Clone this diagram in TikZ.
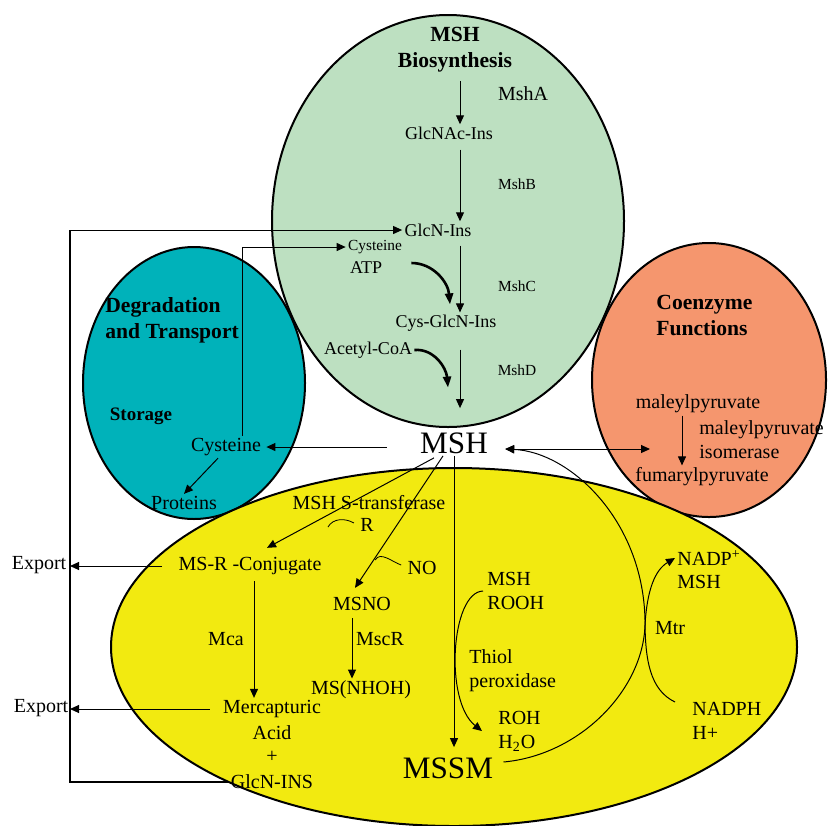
\documentclass[tikz,border=0pt]{standalone}
\usepackage{fontspec}
\setmainfont{Liberation Serif}
\usetikzlibrary{arrows.meta}
\definecolor{synth}{RGB}{189,224,193}
\definecolor{degr}{RGB}{0,178,186}
\definecolor{coenz}{RGB}{245,150,110}
\definecolor{detox}{RGB}{242,234,16}
\newcommand{\blob}[4]{\draw[line width=1pt,fill=#1] (#2) ellipse [x radius=#3, y radius=#4];}
\newcommand{\chem}[4][lbl]{\node[#1] (#2) at (#3) {#4};}
\tikzset{
  arr/.style={line width=0.5pt,-{Triangle[length=4.5pt,width=4pt]}},
  twoway/.style={line width=0.5pt,{Triangle[length=4.5pt,width=4pt]}-{Triangle[length=4.5pt,width=4pt]}},
  heavy/.style={line width=1.3pt,-{Triangle[length=5.5pt,width=4pt]}},
  wire/.style={line width=0.8pt},
  lbl/.style={font=\fontsize{10}{12}\selectfont,inner sep=1pt},
  bio/.style={font=\fontsize{9}{11}\selectfont,inner sep=1pt},
  tiny/.style={font=\fontsize{7.7}{9}\selectfont,inner sep=1pt},
  head/.style={font=\bfseries\fontsize{10.8}{13}\selectfont,align=left,inner sep=0pt},
  big/.style={font=\fontsize{15.6}{18}\selectfont,inner sep=1pt},
  stack/.style={lbl,align=left,anchor=west}
}
\begin{document}
\begin{tikzpicture}[x=0.5pt,y=-0.5pt]
\useasboundingbox (0,0) rectangle (828,825);
\blob{synth}{448,221}{176}{206}
\blob{degr}{194,383}{111}{136}
\blob{coenz}{709,380}{117}{137}
\blob{detox}{454,647}{343}{179}
\coordinate (spine) at (460,0);
\coordinate (exL) at (70,0);
\coordinate (upL) at (242,0);
\coordinate (mcaL) at (254,0);
\coordinate (mscL) at (352,0);
\coordinate (fumL) at (682,0);
% biosynthesis
\node[head,align=center] (synthT) at (455,50) {MSH\\Biosynthesis};
\chem{MshA}{523,94}{MshA}
\chem[bio]{GlcNAc}{449,133}{GlcNAc-Ins}
\chem[tiny]{MshB}{517,184}{MshB}
\chem[bio]{GlcN}{438,230}{GlcN-Ins}
\chem[tiny]{CysIn}{375,247}{Cysteine}
\chem[bio]{ATP}{366,268}{ATP}
\chem[tiny]{MshC}{517,286}{MshC}
\chem[bio]{CysGlcN}{446,323}{Cys-GlcN-Ins}
\chem[bio]{AcCoA}{368,350}{Acetyl-CoA}
\chem[tiny]{MshD}{517,370}{MshD}
\chem[big]{MSH}{454,443}{MSH}
\foreach \a/\b/\s in {synthT/GlcNAc/4pt,GlcNAc/GlcN/4pt,GlcN/CysGlcN/3.5pt}{
  \draw[arr,shorten <=\s] (\a.south -| spine) -- (\b.north -| spine);
}
\draw[arr,shorten <=8pt,shorten >=11pt] (CysGlcN.south -| spine) -- (MSH.north -| spine);
\draw[heavy] (ATP.east) ++(27,-5) to[out=0,in=95] ([xshift=2pt,yshift=4pt]CysGlcN.north);
\draw[heavy] (AcCoA.east) to[out=5,in=95] ([xshift=1pt,yshift=-27pt]CysGlcN.south);
% degradation
\node[head,anchor=west] (degT) at (105,320) {Degradation\\and Transport};
\chem[font=\bfseries\fontsize{9.5}{11}\selectfont]{Stor}{141,416}{Storage}
\chem{CysT}{226,447}{Cysteine}
\chem{Prot}{184,503}{Proteins}
\draw[arr,shorten <=15.5pt,shorten >=1.5pt] (MSH.west |- CysT.east) -- (CysT.east);
\draw[arr] ([xshift=-4pt]CysT.south) -- (Prot.north);
\draw[arr] (CysT.north -| upL) -- (CysIn.west -| upL) -- (CysIn.west);
% coenzyme
\node[head,anchor=west] (coT) at (656,315) {Coenzyme\\Functions};
\chem{maley}{698,404}{maleylpyruvate}
\chem[stack]{iso}{697,440}{maleylpyruvate\\isomerase}
\chem{fum}{702,477}{fumarylpyruvate}
\draw[arr] (maley.south -| fumL) -- (fum.north -| fumL);
\draw[twoway,shorten <=7.5pt] (MSH.east |- 0,449) -- (650,449);
% detoxification
\chem{trans}{369,503}{MSH S-transferase}
\chem{Rl}{367,525}{R}
\chem{conj}{250,566}{MS-R -Conjugate}
\chem{NO}{422,568}{NO}
\chem{MSNO}{362,604}{MSNO}
\chem{Mca}{226,639}{Mca}
\chem{MscR}{380,639}{MscR}
\chem{NHOH}{361,690}{MS(NHOH)}
\chem{merc}{272,709}{Mercapturic}
\chem{acid}{272,733}{Acid}
\chem{plus}{272,757}{+}
\chem{GlcNINS}{272,782}{GlcN-INS}
\chem[big]{MSSM}{448,768}{MSSM}
\chem[stack]{MSHROOH}{485,591}{MSH\\ROOH}
\chem[stack]{thiol}{467,671}{Thiol\\peroxidase}
\chem[stack]{ROH}{496,731}{ROH\\H\textsubscript{2}O}
\chem[lbl,anchor=west]{NADPp}{675,558}{NADP\textsuperscript{+}}
\chem[lbl,anchor=west]{MSHn}{675,582}{MSH}
\chem{Mtr}{670,628}{Mtr}
\chem[lbl,anchor=west]{NADPH}{690,709}{NADPH}
\chem[lbl,anchor=west]{Hp}{690,733}{H+}
\chem{exp1}{39,565}{Export}
\chem{exp2}{41,708}{Export}
\draw[arr] ([xshift=-10pt,yshift=-1pt]MSH.south) -- ([xshift=8.5pt,yshift=3.5pt]conj.north);
\draw[arr] ([xshift=-5.5pt]MSH.south) -- ([xshift=-3.5pt,yshift=3.5pt]MSNO.north);
\draw[arr,shorten >=4pt] (MSH.south) -- (MSH.south |- MSSM.north);
\draw (Rl.west) ++(-4,-2) to[out=150,in=60] ++(-26,4);
\draw (NO.west) ++(-4,-3) to[out=160,in=60] ++(-26,-5);
\draw[arr,shorten <=2pt] (conj.south -| mcaL) -- (merc.north -| mcaL);
\draw[arr,shorten <=2.5pt] (MSNO.south -| mscL) -- (NHOH.north -| mscL);
\draw[arr] ([xshift=-7pt]conj.west) -- (conj.west -| exL);
\draw[arr] ([xshift=-5.5pt]merc.west) -- (merc.west -| exL);
\draw[wire] (GlcNINS.west) -- (GlcNINS.west -| exL) -- (GlcN.west -| exL);
\draw[arr] (GlcN.west -| exL) -- (GlcN.west);
\draw[arr] ([xshift=-1pt]MSHROOH.west) .. controls +(-32,1) and +(-38,-30) .. ([xshift=-7pt]ROH.west);
\draw[arr] ([xshift=4pt,yshift=3pt]MSSM.east) .. controls (580,755) and (643,690) .. (645,625) .. controls (647,590) and (655,570) .. (NADPp.west);
\draw[arr] ([xshift=-7.5pt,yshift=3.5pt]NADPH.west) .. controls (650,690) and (645,660) .. (645,620) .. controls (643,520) and (570,452) .. ([xshift=7.5pt]MSH.east |- 0,449);
\end{tikzpicture}
\end{document}
